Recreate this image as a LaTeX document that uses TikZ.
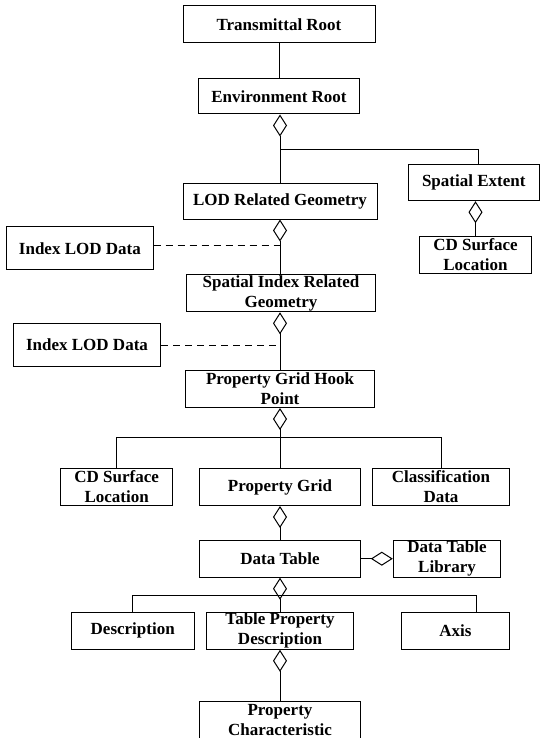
\documentclass[tikz,border=0pt]{standalone}
\usepackage{fontspec}
\setmainfont{Liberation Serif}
\usetikzlibrary{arrows.meta, positioning}

\begin{document}
\begin{tikzpicture}[x=1pt, y=-1pt,
  cls/.style={rectangle, draw, line width=1pt, inner sep=0pt,
              minimum height=37pt, align=center,
              font=\fontsize{17}{20}\selectfont\bfseries},
  agg/.style={{Diamond[open, length=22pt, width=14pt]}-, line width=1pt},
  link/.style={line width=1pt},
  dep/.style={line width=1pt, dash pattern=on 7pt off 5pt},
]
\useasboundingbox (0,0) rectangle (540,738);

\node[cls, minimum width=192pt] (troot)  at (279,24.5)   {Transmittal Root};
\node[cls, minimum width=161pt, minimum height=35pt] (eroot) at (279,96.5) {Environment Root};
\node[cls, minimum width=194pt, minimum height=36pt] (lod) at (280,201) {LOD Related Geometry};
\node[cls, minimum width=131.5pt, minimum height=36.4pt] (sext) at (473.75,182.5) {Spatial Extent};
\node[cls, minimum width=112.4pt] (cdsl1)  at (475.5,255)  {CD Surface\\Location};
\node[cls, minimum width=146.3pt, minimum height=43.3pt] (idx1) at (79.9,248.3) {Index LOD Data};
\node[cls, minimum width=188.7pt] (sirg)   at (281,293.3)  {Spatial Index Related\\Geometry};
\node[cls, minimum width=147.4pt, minimum height=43.4pt] (idx2) at (87,345) {Index LOD Data};
\node[cls, minimum width=188.5pt] (pghp)   at (280,389)    {Property Grid Hook\\Point};
\node[cls, minimum width=112pt]   (cdsl2)  at (116.7,487)  {CD Surface\\Location};
\node[cls, minimum width=160.7pt] (pgrid)  at (280,487)    {Property Grid};
\node[cls, minimum width=136.6pt] (cdata)  at (441,487)    {Classification\\Data};
\node[cls, minimum width=160.7pt] (dtable) at (280,558.7)  {Data Table};
\node[cls, minimum width=107.4pt] (dtlib)  at (447,558.7)  {Data Table\\Library};
\node[cls, minimum width=123.3pt] (desc)   at (132.7,630.8) {Description};
\node[cls, minimum width=147.4pt] (tpd)    at (280,630.8)  {Table Property\\Description};
\node[cls, minimum width=107.3pt] (axis)   at (455.4,630.8) {Axis};
\node[cls, minimum width=160.7pt] (pchar)  at (280,720.4)  {Property\\Characteristic};

% branch points
\coordinate (erbar)  at (280,150);
\coordinate (sxdrop) at (478,150);
\coordinate (pgbar)  at (280,437.7);
\coordinate (dtbar)  at (280,595);
\coordinate (axdrop) at (476.7,595);

\draw[link] (troot) -- (eroot);
\draw[agg] (eroot.south -| lod.north) -- (lod.north);
\draw[link] (erbar) -| (sext.north -| sxdrop);
\draw[agg] (sext.south -| cdsl1.north) -- (cdsl1.north);

\draw[agg] (lod.south) -- (sirg.north -| lod.south);
\draw[dep] ([yshift=2.5pt]idx1.east) -- ([yshift=2.5pt]idx1.east -| lod.south);
\draw[agg] (sirg.south -| pghp.north) -- (pghp.north);
\draw[dep] (idx2.east) -- (idx2.east -| pghp.north);

\draw[agg] (pghp.south) -- (pgrid.north);
\draw[link] (cdsl2.north) |- (pgbar) -| (cdata.north);
\draw[agg] (pgrid.south) -- (dtable.north);
\draw[agg] (dtlib.west) -- (dtable.east);

\draw[agg] (dtable.south) -- (tpd.north);
\draw[link] (desc.north) |- (axdrop) -- (axis.north -| axdrop);
\draw[agg] (tpd.south) -- (pchar.north);

\end{tikzpicture}
\end{document}
